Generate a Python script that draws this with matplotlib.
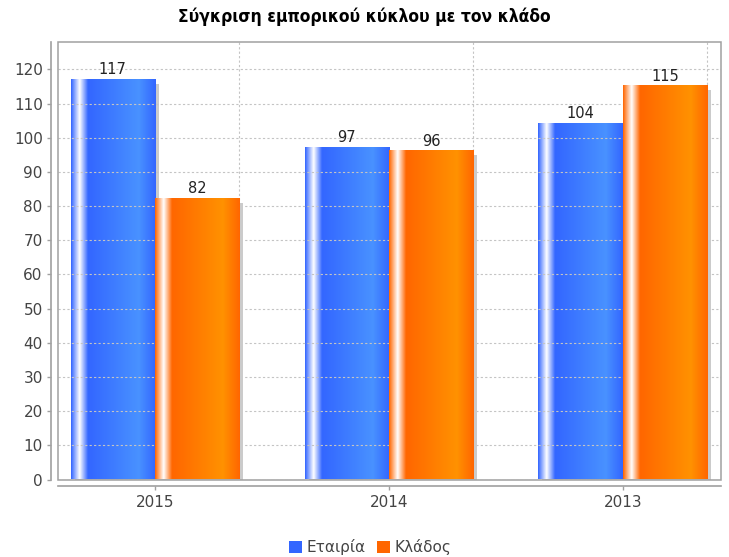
import numpy as np
import matplotlib
matplotlib.use('Agg')
import matplotlib.pyplot as plt
from matplotlib.patches import Rectangle, Patch
from matplotlib.font_manager import FontProperties

# data
years = ['2015', '2014', '2013']
company = [117, 97, 104]
sector = [82, 96, 115]
series_names = ['Εταιρία', 'Κλάδος']
title = 'Σύγκριση εμπορικού κύκλου με τον κλάδο'

blue = (0x33 / 255, 0x66 / 255, 1.0)
orange = (1.0, 0x66 / 255, 0.0)
text_grey = '#444444'
line_grey = '#a0a0a0'

plt.rcParams['font.family'] = 'DejaVu Sans'
fp_tick = FontProperties(family='DejaVu Sans', size=11)
fp_value = FontProperties(family='DejaVu Sans', size=10.5)
fp_legend = FontProperties(family='DejaVu Sans', size=11)


def brighter(c):
    # java.awt.Color.brighter()
    return tuple(min(1.0, v / 0.7) for v in c)


def gradient_row(c0, n=200):
    c0 = np.array(c0)
    c1 = np.array(brighter(c0))
    w = np.ones(3)
    row = []
    for t in np.linspace(0, 1, n):
        if t < 0.1:
            k = t / 0.1
            row.append(c0 + (w - c0) * k)
        elif t < 0.2:
            k = (t - 0.1) / 0.1
            row.append(w + (c0 - w) * k)
        elif t < 0.8:
            k = (t - 0.2) / 0.6
            row.append(c0 + (c1 - c0) * k)
        else:
            k = (t - 0.8) / 0.2
            row.append(c1 + (c0 - c1) * k)
    return np.array(row)[np.newaxis, :, :]


fig = plt.figure(figsize=(7.29, 5.57), dpi=100)
W, H = 729, 557
left, right, top, bottom = 58, 721, 42, 479.5
ax = fig.add_axes([left / W, (H - bottom) / H, (right - left) / W, (bottom - top) / H])

x = np.arange(len(years))
bw = 0.361
px_x = 1 / 234.0
px_y = 128.0 / (bottom - top)

# grid
ax.set_yticks(np.arange(0, 121, 10))
ax.yaxis.grid(True, color='#c4c4c4', linestyle=(0, (2, 2)), linewidth=0.8)
for xi in x:
    ax.axvline(xi + bw, color='#c4c4c4', linestyle=(0, (2, 2)), linewidth=0.8, zorder=0.5)

grads = [gradient_row(blue), gradient_row(orange)]
for si, vals in enumerate([company, sector]):
    for xi, v in zip(x, vals):
        x0 = xi - bw + si * bw
        # shadow
        ax.add_patch(Rectangle((x0 + 4 * px_x, 0), bw, v - 4 * px_y,
                               facecolor='#cbcbcb', edgecolor='none', zorder=1 + si))
        ax.imshow(grads[si], extent=[x0, x0 + bw, 0, v], aspect='auto',
                  interpolation='bilinear', zorder=1.5 + si)
        ax.annotate(str(v), (x0 + bw / 2, v), xytext=(0, 2), textcoords='offset points',
                    ha='center', va='bottom', fontproperties=fp_value, color='#222222', zorder=5)

ax.set_xlim(-0.4145, 2.419)
ax.set_ylim(0, 128)
ax.set_xticks(x)
ax.set_xticklabels(years)

# plot border
ax.add_patch(Rectangle((0, 0), 1, 1, transform=ax.transAxes, fill=False,
                       edgecolor=line_grey, linewidth=1.1, zorder=6, clip_on=False))
ax.spines['top'].set_visible(False)
ax.spines['right'].set_visible(False)
for s in ['left', 'bottom']:
    ax.spines[s].set_position(('outward', 5))
    ax.spines[s].set_color(line_grey)
    ax.spines[s].set_linewidth(1.2)

ax.tick_params(axis='both', colors=line_grey, labelcolor=text_grey, length=3, width=1)
ax.tick_params(axis='y', pad=3)
ax.tick_params(axis='x', pad=3)
for lab in ax.get_xticklabels() + ax.get_yticklabels():
    lab.set_fontproperties(fp_tick)

fig.text(0.5, 1 - 17 / H, title, ha='center', va='center', fontsize=12.5,
         fontweight='bold', fontstretch='condensed', color='#000000')

handles = [Patch(facecolor=blue, edgecolor='none'), Patch(facecolor=orange, edgecolor='none')]
fig.legend(handles, series_names, loc='center', bbox_to_anchor=(0.508, 1 - 547 / H),
           ncol=2, frameon=False, prop=fp_legend, handlelength=0.85, handleheight=0.85,
           handletextpad=0.3, columnspacing=0.7, labelcolor=text_grey)

fig.savefig('out.png', dpi=100)
